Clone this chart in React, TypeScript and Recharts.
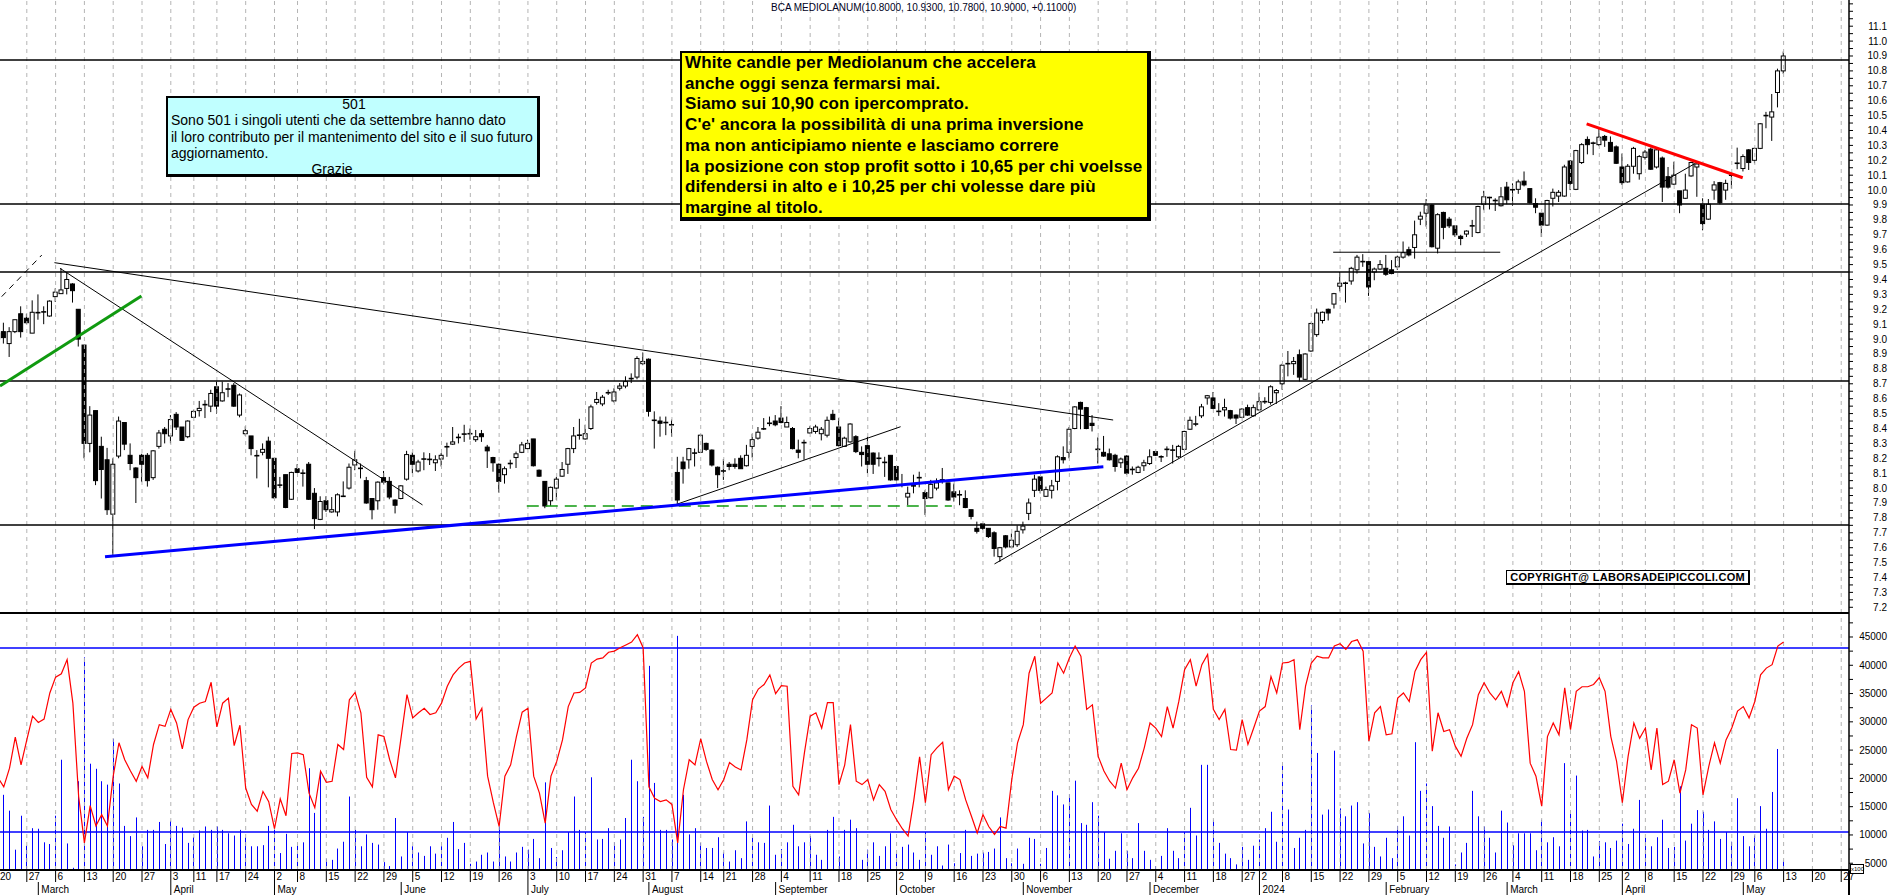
import React from 'react'
import { ComposedChart, Bar, Line, XAxis, YAxis, ReferenceLine } from 'recharts'

// trading calendar (Borsa Italiana), first session 20 Feb 2023
const START = Date.UTC(2023, 1, 20)
const HOLIDAYS = [
  '2023-04-07', '2023-04-10', '2023-05-01', '2023-08-15', '2023-12-25', '2023-12-26',
  '2024-01-01', '2024-03-29', '2024-04-01', '2024-05-01',
]
const MONTHS = ['January', 'February', 'March', 'April', 'May', 'June', 'July', 'August', 'September', 'October', 'November', 'December']

const opens = [
  9.00, 9.05, 8.97, 9.05, 9.17, 9.14, 9.04, 9.18, 9.18, 9.155,
  9.285, 9.305, 9.34, 9.37, 9.20, 8.96, 8.30, 8.52, 8.28, 8.19,
  7.825, 8.215, 8.44, 8.22, 8.135, 8.22, 8.22, 8.07, 8.28, 8.395,
  8.35, 8.495, 8.41, 8.345, 8.475, 8.52, 8.56, 8.55, 8.68, 8.585,
  8.66, 8.69, 8.49, 8.365, 8.35, 8.22, 8.24, 8.315, 8.20, 8.02,
  8.09, 7.925, 8.13, 8.10, 8.16, 7.965, 7.79, 7.915, 7.84, 7.84,
  7.945, 8.00, 8.155, 8.135, 8.05, 7.93, 7.915, 8.07, 8.045, 7.92,
  7.93, 8.06, 8.22, 8.115, 8.195, 8.19, 8.17, 8.195, 8.275, 8.295,
  8.345, 8.36, 8.36, 8.325, 8.365, 8.275, 8.205, 8.16, 8.09, 8.165,
  8.205, 8.24, 8.265, 8.33, 8.12, 8.045, 7.915, 8.00, 8.08, 8.16,
  8.265, 8.355, 8.33, 8.40, 8.575, 8.565, 8.64, 8.585, 8.67, 8.685,
  8.735, 8.745, 8.835, 8.865, 8.455, 8.45, 8.44, 8.425, 8.105, 8.175,
  8.19, 8.235, 8.24, 8.30, 8.255, 8.14, 8.115, 8.16, 8.16, 8.20,
  8.15, 8.28, 8.335, 8.40, 8.43, 8.45, 8.47, 8.41, 8.40, 8.255,
  8.305, 8.37, 8.38, 8.365, 8.355, 8.495, 8.41, 8.28, 8.31, 8.345,
  8.24, 8.285, 8.235, 8.20, 8.175, 8.22, 8.145, 8.02, 7.94, 8.015,
  8.07, 7.97, 7.935, 8.00, 8.055, 8.035, 7.975, 7.955, 7.93, 7.855,
  7.73, 7.76, 7.73, 7.70, 7.54, 7.68, 7.605, 7.62, 7.72, 7.83,
  7.985, 8.075, 7.945, 7.985, 8.045, 8.205, 8.24, 8.40, 8.575, 8.54,
  8.435, 8.26, 8.24, 8.23, 8.22, 8.17, 8.215, 8.125, 8.105, 8.15,
  8.165, 8.245, 8.21, 8.26, 8.255, 8.21, 8.26, 8.395, 8.43, 8.485,
  8.605, 8.605, 8.515, 8.525, 8.52, 8.49, 8.475, 8.54, 8.485, 8.525,
  8.58, 8.575, 8.64, 8.70, 8.835, 8.835, 8.895, 8.73, 8.92, 9.03,
  9.125, 9.20, 9.235, 9.355, 9.375, 9.39, 9.465, 9.515, 9.52, 9.45,
  9.47, 9.475, 9.465, 9.485, 9.55, 9.60, 9.615, 9.805, 9.845, 9.90,
  9.61, 9.85, 9.805, 9.76, 9.69, 9.705, 9.76, 9.715, 9.905, 9.95,
  9.93, 9.895, 10.02, 10.0, 10.005, 10.06, 10.01, 9.91, 9.845, 9.765,
  9.945, 9.96, 9.96, 10.195, 10.005, 10.185, 10.34, 10.315, 10.305, 10.36,
  10.32, 10.29, 10.155, 10.055, 10.16, 10.11, 10.22, 10.275, 10.155, 10.215,
  10.09, 10.04, 9.995, 9.945, 10.095, 10.155, 9.905, 9.805, 10.0, 10.05,
  10.0, 10.095, 10.175, 10.145, 10.27, 10.20, 10.28, 10.505, 10.49, 10.655, 10.80,
]

const highs = [
  9.06, 9.11, 9.08, 9.13, 9.22, 9.17, 9.26, 9.30, 9.22, 9.26,
  9.34, 9.475, 9.45, 9.375, 9.20, 8.96, 8.55, 8.52, 8.345, 8.27,
  8.20, 8.48, 8.44, 8.30, 8.14, 8.23, 8.235, 8.255, 8.39, 8.41,
  8.49, 8.51, 8.41, 8.455, 8.525, 8.585, 8.59, 8.66, 8.715, 8.715,
  8.705, 8.705, 8.635, 8.415, 8.35, 8.255, 8.30, 8.345, 8.20, 8.075,
  8.09, 8.11, 8.16, 8.125, 8.175, 8.00, 7.945, 7.945, 7.94, 7.965,
  8.045, 8.165, 8.25, 8.165, 8.075, 7.93, 8.045, 8.115, 8.075, 7.925,
  8.02, 8.25, 8.24, 8.19, 8.24, 8.235, 8.22, 8.235, 8.305, 8.41,
  8.365, 8.425, 8.40, 8.39, 8.39, 8.29, 8.21, 8.165, 8.145, 8.19,
  8.245, 8.31, 8.325, 8.33, 8.125, 8.045, 8.01, 8.075, 8.175, 8.27,
  8.41, 8.465, 8.425, 8.56, 8.645, 8.625, 8.66, 8.67, 8.705, 8.75,
  8.77, 8.885, 8.91, 8.87, 8.515, 8.48, 8.48, 8.46, 8.21, 8.21,
  8.27, 8.265, 8.36, 8.305, 8.26, 8.145, 8.195, 8.175, 8.20, 8.22,
  8.29, 8.365, 8.41, 8.47, 8.48, 8.49, 8.55, 8.48, 8.41, 8.325,
  8.325, 8.415, 8.425, 8.41, 8.48, 8.525, 8.47, 8.345, 8.435, 8.355,
  8.28, 8.345, 8.24, 8.24, 8.21, 8.22, 8.145, 8.095, 8.01, 8.09,
  8.11, 7.985, 8.055, 8.065, 8.135, 8.035, 8.03, 7.985, 7.985, 7.855,
  7.775, 7.765, 7.73, 7.71, 7.605, 7.685, 7.695, 7.75, 7.775, 7.93,
  8.09, 8.08, 8.01, 8.055, 8.22, 8.28, 8.41, 8.55, 8.58, 8.545,
  8.49, 8.34, 8.35, 8.265, 8.23, 8.205, 8.22, 8.145, 8.15, 8.19,
  8.26, 8.25, 8.22, 8.28, 8.29, 8.29, 8.385, 8.48, 8.485, 8.565,
  8.625, 8.645, 8.57, 8.60, 8.525, 8.495, 8.535, 8.56, 8.56, 8.64,
  8.61, 8.69, 8.665, 8.835, 8.92, 8.88, 8.93, 8.905, 9.11, 9.205,
  9.185, 9.205, 9.31, 9.45, 9.385, 9.485, 9.565, 9.57, 9.525, 9.48,
  9.53, 9.565, 9.53, 9.56, 9.655, 9.62, 9.795, 9.855, 9.94, 9.905,
  9.845, 9.855, 9.82, 9.76, 9.70, 9.73, 9.80, 9.895, 9.995, 9.955,
  9.945, 10.02, 10.055, 10.045, 10.07, 10.125, 10.01, 9.945, 9.845, 9.935,
  10.01, 10.0, 10.17, 10.20, 10.27, 10.315, 10.36, 10.325, 10.415, 10.37,
  10.36, 10.30, 10.245, 10.175, 10.29, 10.235, 10.27, 10.285, 10.28, 10.225,
  10.155, 10.19, 9.995, 10.11, 10.19, 10.18, 9.945, 9.94, 10.06, 10.055,
  10.07, 10.11, 10.285, 10.24, 10.275, 10.285, 10.45, 10.525, 10.645, 10.815, 10.93,
]

const lows = [
  8.95, 8.97, 8.88, 9.04, 9.01, 9.10, 9.04, 9.13, 9.10, 9.15,
  9.25, 9.305, 9.30, 9.245, 8.95, 8.20, 8.24, 8.02, 7.93, 7.82,
  7.54, 8.20, 8.255, 8.12, 7.90, 8.04, 8.01, 8.055, 8.265, 8.30,
  8.30, 8.39, 8.32, 8.335, 8.47, 8.48, 8.47, 8.51, 8.50, 8.58,
  8.61, 8.545, 8.475, 8.35, 8.22, 8.065, 8.22, 8.005, 7.93, 8.00,
  7.865, 7.92, 8.10, 8.01, 7.92, 7.725, 7.785, 7.84, 7.835, 7.81,
  7.94, 7.99, 8.12, 8.065, 7.895, 7.79, 7.855, 8.025, 7.925, 7.83,
  7.925, 8.05, 8.10, 8.105, 8.12, 8.155, 8.115, 8.145, 8.21, 8.29,
  8.30, 8.31, 8.325, 8.31, 8.31, 8.135, 8.11, 7.97, 8.03, 8.13,
  8.135, 8.235, 8.26, 8.145, 8.075, 7.865, 7.88, 7.92, 8.075, 8.095,
  8.235, 8.325, 8.325, 8.39, 8.56, 8.55, 8.625, 8.575, 8.655, 8.67,
  8.705, 8.73, 8.825, 8.48, 8.265, 8.345, 8.355, 8.345, 7.895, 8.03,
  8.13, 8.145, 8.235, 8.25, 8.145, 8.00, 8.055, 8.12, 8.13, 8.13,
  8.145, 8.205, 8.325, 8.39, 8.415, 8.415, 8.435, 8.41, 8.26, 8.20,
  8.19, 8.365, 8.365, 8.32, 8.34, 8.455, 8.28, 8.28, 8.305, 8.235,
  8.145, 8.10, 8.095, 8.145, 8.075, 8.05, 8.05, 8.005, 7.885, 7.965,
  8.005, 7.82, 7.93, 7.985, 8.03, 7.915, 7.91, 7.885, 7.865, 7.79,
  7.695, 7.72, 7.665, 7.54, 7.505, 7.595, 7.605, 7.605, 7.695, 7.785,
  7.94, 7.965, 7.94, 7.93, 7.985, 8.165, 8.20, 8.395, 8.395, 8.395,
  8.38, 8.165, 8.21, 8.185, 8.11, 8.135, 8.09, 8.09, 8.10, 8.115,
  8.155, 8.215, 8.175, 8.21, 8.165, 8.20, 8.255, 8.39, 8.415, 8.47,
  8.56, 8.53, 8.485, 8.48, 8.46, 8.43, 8.47, 8.485, 8.48, 8.52,
  8.565, 8.56, 8.565, 8.66, 8.75, 8.76, 8.715, 8.725, 8.915, 9.015,
  9.105, 9.125, 9.205, 9.32, 9.245, 9.365, 9.44, 9.485, 9.29, 9.395,
  9.465, 9.425, 9.435, 9.465, 9.54, 9.555, 9.54, 9.765, 9.755, 9.615,
  9.575, 9.67, 9.745, 9.685, 9.63, 9.685, 9.685, 9.71, 9.865, 9.87,
  9.86, 9.89, 9.905, 9.895, 9.975, 10.025, 9.91, 9.845, 9.685, 9.76,
  9.89, 9.92, 9.955, 10.0, 10.0, 10.175, 10.24, 10.235, 10.295, 10.29,
  10.26, 10.175, 10.035, 10.05, 10.11, 10.07, 10.205, 10.135, 10.145, 9.92,
  10.01, 10.035, 9.845, 9.94, 10.09, 9.955, 9.73, 9.80, 9.935, 9.905,
  9.935, 10.01, 10.14, 10.125, 10.135, 10.18, 10.275, 10.415, 10.33, 10.555, 10.78,
]

const closes = [
  9.04, 9.01, 9.05, 9.13, 9.05, 9.11, 9.18, 9.175, 9.185, 9.255,
  9.315, 9.33, 9.40, 9.325, 9.00, 8.30, 8.49, 8.05, 8.125, 7.855,
  8.16, 8.45, 8.295, 8.165, 8.07, 8.16, 8.05, 8.25, 8.37, 8.365,
  8.46, 8.41, 8.32, 8.45, 8.515, 8.535, 8.56, 8.635, 8.55, 8.64,
  8.67, 8.55, 8.625, 8.385, 8.265, 8.215, 8.26, 8.20, 7.935, 8.02,
  7.87, 8.105, 8.105, 8.10, 7.925, 7.795, 7.91, 7.855, 7.855, 7.955,
  7.945, 8.14, 8.19, 8.13, 7.90, 7.855, 8.04, 8.04, 7.94, 7.885,
  8.015, 8.225, 8.16, 8.175, 8.195, 8.195, 8.19, 8.22, 8.28, 8.31,
  8.335, 8.365, 8.37, 8.345, 8.345, 8.25, 8.17, 8.045, 8.13, 8.165,
  8.23, 8.29, 8.30, 8.15, 8.08, 7.88, 8.005, 8.06, 8.125, 8.265,
  8.35, 8.355, 8.365, 8.545, 8.595, 8.61, 8.64, 8.645, 8.685, 8.715,
  8.735, 8.87, 8.85, 8.515, 8.455, 8.435, 8.44, 8.425, 7.92, 8.13,
  8.265, 8.235, 8.355, 8.26, 8.155, 8.09, 8.115, 8.145, 8.145, 8.13,
  8.22, 8.325, 8.375, 8.395, 8.44, 8.425, 8.44, 8.44, 8.265, 8.24,
  8.305, 8.40, 8.41, 8.395, 8.455, 8.46, 8.285, 8.335, 8.43, 8.245,
  8.225, 8.16, 8.16, 8.20, 8.17, 8.055, 8.055, 8.02, 7.965, 8.015,
  8.07, 7.93, 8.025, 8.035, 8.055, 7.92, 7.94, 7.955, 7.87, 7.81,
  7.71, 7.73, 7.675, 7.595, 7.60, 7.605, 7.65, 7.71, 7.745, 7.90,
  8.06, 7.985, 7.99, 8.015, 8.21, 8.19, 8.395, 8.545, 8.53, 8.40,
  8.42, 8.26, 8.215, 8.19, 8.145, 8.195, 8.10, 8.125, 8.14, 8.17,
  8.21, 8.22, 8.21, 8.26, 8.255, 8.28, 8.38, 8.455, 8.43, 8.545,
  8.62, 8.535, 8.515, 8.54, 8.47, 8.47, 8.53, 8.49, 8.54, 8.58,
  8.58, 8.68, 8.655, 8.825, 8.835, 8.85, 8.745, 8.90, 9.105, 9.175,
  9.18, 9.175, 9.305, 9.375, 9.375, 9.475, 9.55, 9.525, 9.35, 9.47,
  9.50, 9.435, 9.44, 9.55, 9.58, 9.565, 9.70, 9.825, 9.90, 9.62,
  9.835, 9.75, 9.76, 9.70, 9.675, 9.725, 9.76, 9.89, 9.955, 9.95,
  9.93, 9.955, 9.935, 10.005, 10.055, 10.035, 9.915, 9.885, 9.765, 9.93,
  9.985, 9.985, 10.155, 10.045, 10.265, 10.305, 10.305, 10.315, 10.355, 10.335,
  10.26, 10.18, 10.05, 10.16, 10.28, 10.225, 10.255, 10.14, 10.27, 10.02,
  10.02, 10.10, 9.90, 10.0, 10.185, 10.175, 9.775, 9.905, 10.035, 9.915,
  10.045, 10.105, 10.185, 10.225, 10.185, 10.28, 10.445, 10.495, 10.525, 10.80, 10.90,
]

const volumes = [
  8000, 17100, 14300, 7400, 13400, 8100, 11200, 11100, 8700, 8400,
  13400, 23300, 8500, 4200, 19500, 41400, 22600, 21700, 19500, 18900,
  27000, 19100, 11600, 9800, 13100, 8000, 10900, 10900, 12300, 8400,
  12500, 11600, 11300, 8600, 9600, 10800, 11500, 10900, 11500, 10900,
  10300, 9900, 10900, 9600, 8000, 8000, 8200, 11600, 11100, 6800,
  10200, 7900, 8600, 8700, 21800, 13900, 21300, 5800, 5600, 7600,
  8800, 16800, 10900, 8000, 10100, 8600, 8300, 5200, 4500, 13000,
  6200, 10500, 8000, 6900, 6300, 8000, 6700, 8000, 9500, 12300,
  7500, 8600, 4900, 5300, 6500, 6900, 5300, 11500, 6200, 5300,
  6900, 7900, 7400, 9300, 5900, 19300, 7700, 6100, 7300, 10500,
  16800, 10900, 10500, 20200, 9200, 9300, 11200, 8700, 9200, 13000,
  23300, 19500, 13200, 39900, 19200, 10900, 10900, 9200, 45200, 17100,
  10100, 11200, 8600, 7700, 7700, 9600, 6900, 5300, 7300, 5900,
  12400, 9500, 8700, 8600, 15200, 6500, 7500, 8700, 11800, 8000,
  8700, 9800, 6500, 5600, 10900, 13200, 6200, 10900, 12700, 11200,
  5600, 7400, 8700, 6300, 8000, 10300, 6800, 7900, 8300, 6900,
  5600, 10500, 6500, 8000, 4600, 8300, 5000, 6800, 10900, 6300,
  6700, 6900, 7000, 7600, 13100, 5900, 5000, 7600, 4900, 9500,
  9300, 4900, 7700, 17800, 17000, 15400, 17200, 19600, 12100, 11800,
  15800, 13400, 10500, 5800, 7200, 10300, 7200, 5900, 12100, 7200,
  5600, 4500, 6300, 11200, 7200, 5900, 10500, 14800, 9900, 22400,
  22400, 12700, 8600, 6700, 5900, 4800, 7900, 5600, 8100, 9200,
  11200, 14100, 8800, 22300, 14500, 7700, 9500, 10900, 32900, 24500,
  13600, 14500, 24900, 14700, 13300, 15200, 15800, 8500, 13900, 7900,
  6200, 9500, 5900, 11600, 13300, 9900, 26400, 17800, 19100, 15100,
  11600, 9500, 11500, 4800, 6900, 8600, 17800, 13300, 11500, 9500,
  6900, 14300, 12200, 8200, 10300, 10300, 10300, 7300, 12700, 8700,
  9600, 8000, 22700, 14300, 20500, 10800, 10900, 6200, 8900, 8700,
  7700, 9000, 12000, 8400, 11100, 16200, 9500, 8000, 9600, 12700,
  7700, 7900, 18600, 9000, 12000, 14400, 14100, 10900, 12400, 9300,
  10500, 8800, 16500, 9800, 8000, 9900, 15100, 11100, 17600, 25200, 5500,
]

const oscillator = [
  20100, 18500, 21800, 27300, 22400, 26800, 31000, 29900, 30500, 35100,
  37900, 38500, 41000, 33300, 16800, 8600, 15200, 11600, 13600, 11600,
  20400, 26300, 23300, 21300, 19500, 22100, 20100, 26000, 29500, 29200,
  32200, 29800, 25200, 30400, 32600, 33300, 33600, 37000, 29100, 33300,
  34200, 25800, 29400, 18300, 15400, 14200, 17700, 15900, 11100, 16400,
  13400, 24400, 24500, 24200, 17400, 14800, 21300, 19300, 19500, 26000,
  25100, 33900, 35200, 31600, 20200, 18500, 27700, 27400, 23300, 20100,
  27400, 34800, 30700, 31600, 32400, 31300, 31600, 33300, 36300, 38300,
  39500, 40400, 40700, 30500, 32400, 20400, 15700, 11500, 20400, 22400,
  27400, 31700, 32400, 20400, 17400, 12100, 20400, 23000, 26800, 32700,
  35100, 35200, 36000, 40400, 41100, 41300, 42300, 42500, 43100, 43600,
  44100, 45400, 43100, 18500, 16500, 15900, 16200, 15400, 8600, 18000,
  23300, 22400, 27000, 23000, 19800, 18000, 19800, 22800, 22000, 21500,
  26800, 33900, 35800, 36600, 38300, 35000, 36400, 36300, 18600, 17100,
  24500, 31000, 31600, 28900, 33400, 33400, 18900, 22400, 29500, 19500,
  18900, 19800, 16200, 18900, 17700, 14500, 12700, 11100, 9800, 16200,
  23800, 15700, 24200, 25400, 26400, 18000, 20400, 19800, 16200, 13300,
  10350, 13600, 11500, 10100, 11500, 11200, 19800, 26300, 29500, 38600,
  41600, 33300, 34200, 35100, 40400, 38600, 41300, 43400, 41600, 32200,
  33000, 23900, 21300, 19500, 18300, 22700, 18000, 20100, 21800, 25400,
  29800, 28900, 27400, 32700, 28900, 33600, 39200, 41000, 36300, 40100,
  41900, 32200, 30400, 32200, 25100, 25000, 30400, 26000, 28900, 31900,
  32700, 38000, 35100, 40400, 40500, 41000, 28600, 36300, 40400, 41600,
  41300, 41300, 43400, 43800, 42800, 44200, 44500, 42500, 26600, 31600,
  32700, 27700, 27900, 34200, 35100, 33600, 38900, 41000, 42300, 24800,
  31600, 28300, 28600, 25700, 23900, 27100, 29500, 34800, 36900, 35100,
  33900, 35400, 32700, 36900, 38900, 35400, 22700, 20400, 15100, 27400,
  29800, 27700, 36000, 28600, 35400, 36200, 36200, 36600, 37800, 35400,
  27400, 23000, 15700, 23900, 29800, 27100, 28900, 21500, 28900, 18900,
  19500, 23300, 17400, 21500, 29500, 28900, 17100, 22100, 26300, 22700,
  26800, 28900, 31900, 32700, 30700, 33600, 38300, 39500, 40100, 43400, 44100,
]

const priceLevels = [10.873, 9.907, 9.45, 8.719, 7.752]
const volumeLevels = [43060, 10530]

const title = 'BCA MEDIOLANUM(10.8000, 10.9300, 10.7800, 10.9000, +0.11000)'
const noteLines = [
  'White candle per Mediolanum che accelera',
  'anche oggi senza fermarsi mai.',
  'Siamo sui 10,90 con ipercomprato.',
  "C'e' ancora la possibilità di una prima inversione",
  'ma non anticipiamo niente e lasciamo correre',
  'la posizione con stop profit sotto i 10,65 per chi voelsse',
  'difendersi in alto e i 10,25 per chi volesse dare più',
  'margine al titolo.',
]
const thanksLines = [
  'Sono 501 i singoli utenti che da settembre hanno dato',
  'il loro contributo per il mantenimento del sito e il suo futuro',
  'aggiornamento.',
]

const FONT = "'Liberation Sans', Arial, sans-serif"
const X_DOMAIN: [number, number] = [0.347, 321.35]
const P_DOMAIN: [number, number] = [7.1617, 11.2758]
const V_DOMAIN: [number, number] = [3806, 49243]
const AXIS_X = 1849

function buildTradingDays(count: number) {
  const out: Date[] = []
  let t = START
  while (out.length < count) {
    const d = new Date(t)
    const dow = d.getUTCDay()
    if (dow !== 0 && dow !== 6 && !HOLIDAYS.includes(d.toISOString().slice(0, 10))) out.push(d)
    t += 86400000
  }
  return out
}

const days = buildTradingDays(322)
const weekTicks = days
  .map((_, i) => i)
  .filter((i) => i === 0 || days[i].getUTCDay() <= days[i - 1].getUTCDay() || days[i].getTime() - days[i - 1].getTime() >= 7 * 86400000)
const monthTicks = days
  .map((_, i) => i)
  .filter((i) => i > 0 && days[i].getUTCMonth() !== days[i - 1].getUTCMonth())

const candles = opens.map((o, i) => ({ i, o, h: highs[i], l: lows[i], c: closes[i], range: [lows[i], highs[i]] }))
const lower = volumes.map((v, i) => ({ i, vol: v, osc: oscillator[i] }))

const priceTicks: number[] = []
for (let k = 144; k <= 225; k++) priceTicks.push(Math.round(k * 5) / 100)
const volumeTicks: number[] = []
for (let v = 5000; v <= 47500; v += 2500) volumeTicks.push(v)

// hand-drawn trend lines: [i1, p1, i2, p2]
const thinLines = [
  [9.8, 9.513, 193.6, 8.457],
  [10.76, 9.475, 73.7, 7.887],
  [117.5, 7.887, 156.7, 8.412],
  [173, 7.491, 294.7, 10.18],
  [231.8, 9.583, 260.8, 9.583],
]

function Candle(props: any) {
  const { x, y, width, height, payload } = props
  if (!payload) return null
  const cx = x + width / 2
  const top = Math.min(y, y + height)
  const len = Math.abs(height)
  const { o, h, l, c } = payload
  const span = h - l
  const toY = (v: number) => (span > 0 ? top + ((h - v) / span) * len : top)
  const bTop = toY(Math.max(o, c))
  const bBot = toY(Math.min(o, c))
  return (
    <g>
      <line x1={cx} x2={cx} y1={top} y2={top + len} stroke="#000" strokeWidth={1} />
      {bBot - bTop < 1.5 ? (
        <line x1={cx - 2.5} x2={cx + 2.5} y1={(bTop + bBot) / 2} y2={(bTop + bBot) / 2} stroke="#000" strokeWidth={1.6} />
      ) : (
        <rect x={cx - 2} y={bTop} width={4} height={bBot - bTop} fill={c >= o ? '#fff' : '#000'} stroke="#000" strokeWidth={1} />
      )}
    </g>
  )
}

function VolumeBar(props: any) {
  const { x, y, width, height } = props
  const cx = Math.round(x + width / 2)
  return <rect x={cx} y={y} width={1} height={Math.max(0, height)} fill="#0000ff" />
}

const PriceTick = (p: any) => {
  const v = p.payload.value
  const major = Math.abs(v * 10 - Math.round(v * 10)) < 1e-6
  return (
    <g>
      <line x1={AXIS_X} x2={AXIS_X + 4} y1={p.y} y2={p.y} stroke="#000" />
      {major && v < 11.15 && (
        <text x={1887} y={p.y} dy={3.5} textAnchor="end" fontSize={10} fontFamily={FONT} fill="#000">
          {v.toFixed(1)}
        </text>
      )}
    </g>
  )
}

const VolumeTick = (p: any) => {
  const v = p.payload.value
  return (
    <g>
      <line x1={AXIS_X} x2={AXIS_X + 4} y1={p.y} y2={p.y} stroke="#000" />
      {v % 5000 === 0 && v <= 45000 && (
        <text x={1887} y={p.y} dy={3.5} textAnchor="end" fontSize={10} fontFamily={FONT} fill="#000">
          {v}
        </text>
      )}
    </g>
  )
}

const DayTick = (p: any) => {
  const d = days[p.payload.value]
  return (
    <g>
      <line x1={p.x} x2={p.x} y1={257} y2={269} stroke="#000" />
      <text x={p.x + 2} y={267} fontSize={10} fontFamily={FONT} fill="#000">
        {d.getUTCDate()}
      </text>
    </g>
  )
}

const MonthTick = (p: any) => {
  const d = days[p.payload.value]
  const m = d.getUTCMonth()
  return (
    <g>
      <line x1={p.x} x2={p.x} y1={269} y2={282} stroke="#000" />
      <text x={p.x + 3} y={280} fontSize={10} fontFamily={FONT} fill="#000">
        {m === 0 ? String(d.getUTCFullYear()) : MONTHS[m]}
      </text>
    </g>
  )
}

const gridLine = { stroke: '#b4b4b4', strokeDasharray: '4 4', strokeWidth: 1 }

export default function App() {
  return (
    <div style={{ position: 'absolute', left: 0, top: 0, width: 1890, height: 895, background: '#fff', overflow: 'hidden', fontFamily: FONT }}>
      <ComposedChart width={1890} height={613} data={candles} margin={{ top: 0, right: 0, left: 0, bottom: 0 }}>
        <XAxis dataKey="i" type="number" domain={X_DOMAIN} allowDataOverflow hide />
        <YAxis
          orientation="right"
          type="number"
          domain={P_DOMAIN}
          allowDataOverflow
          ticks={priceTicks}
          interval={0}
          width={41}
          axisLine={{ stroke: '#000', strokeWidth: 1.5 }}
          tickLine={false}
          tick={PriceTick}
        />
        {weekTicks.map((t) => (
          <ReferenceLine key={'g' + t} x={t} {...gridLine} ifOverflow="visible" />
        ))}
        {priceLevels.map((p) => (
          <ReferenceLine key={'p' + p} y={p} stroke="#000" strokeWidth={1.5} />
        ))}
        {thinLines.map((s, k) => (
          <ReferenceLine key={'t' + k} segment={[{ x: s[0], y: s[1] }, { x: s[2], y: s[3] }]} stroke="#000" strokeWidth={1} ifOverflow="visible" />
        ))}
        <ReferenceLine segment={[{ x: 0.64, y: 9.285 }, { x: 7.6, y: 9.564 }]} stroke="#000" strokeWidth={1} strokeDasharray="6 5" ifOverflow="visible" />
        <ReferenceLine segment={[{ x: 0.35, y: 8.685 }, { x: 24.9, y: 9.289 }]} stroke="#109a10" strokeWidth={3} ifOverflow="visible" />
        <ReferenceLine segment={[{ x: 91.8, y: 7.88 }, { x: 165.6, y: 7.88 }]} stroke="#109a10" strokeWidth={1.5} strokeDasharray="12 7" ifOverflow="visible" />
        <ReferenceLine segment={[{ x: 18.58, y: 7.54 }, { x: 191.9, y: 8.144 }]} stroke="#0000ff" strokeWidth={3} ifOverflow="visible" />
        <ReferenceLine segment={[{ x: 275.8, y: 10.444 }, { x: 302.9, y: 10.083 }]} stroke="#ff0000" strokeWidth={3} ifOverflow="visible" />
        <Bar dataKey="range" barSize={5} shape={Candle} isAnimationActive={false} />
      </ComposedChart>

      <ComposedChart width={1890} height={282} data={lower} margin={{ top: 0, right: 0, left: 0, bottom: 0 }}>
        <XAxis
          xAxisId="d"
          dataKey="i"
          type="number"
          domain={X_DOMAIN}
          allowDataOverflow
          ticks={weekTicks}
          interval={0}
          height={12}
          axisLine={{ stroke: '#000', strokeWidth: 2 }}
          tickLine={false}
          tick={DayTick}
        />
        <XAxis
          xAxisId="m"
          dataKey="i"
          type="number"
          domain={X_DOMAIN}
          allowDataOverflow
          ticks={monthTicks}
          interval={0}
          height={13}
          axisLine={false}
          tickLine={false}
          tick={MonthTick}
        />
        <YAxis
          yAxisId="v"
          orientation="right"
          type="number"
          domain={V_DOMAIN}
          allowDataOverflow
          ticks={volumeTicks}
          interval={0}
          width={41}
          axisLine={{ stroke: '#000', strokeWidth: 1.5 }}
          tickLine={false}
          tick={VolumeTick}
        />
        {weekTicks.map((t) => (
          <ReferenceLine key={'g' + t} xAxisId="d" yAxisId="v" x={t} {...gridLine} ifOverflow="visible" />
        ))}
        <Bar xAxisId="d" yAxisId="v" dataKey="vol" barSize={1} shape={VolumeBar} isAnimationActive={false} />
        {volumeLevels.map((v) => (
          <ReferenceLine key={'v' + v} xAxisId="d" yAxisId="v" y={v} stroke="#0000ff" strokeWidth={1.5} />
        ))}
        <Line xAxisId="d" yAxisId="v" dataKey="osc" type="linear" stroke="#ff0000" strokeWidth={1.2} dot={false} isAnimationActive={false} />
      </ComposedChart>

      <div style={{ position: 'absolute', left: 0, top: 612, width: AXIS_X, height: 2, background: '#000' }} />
      <div style={{ position: 'absolute', left: AXIS_X - 1, top: 870, width: 1.5, height: 25, background: '#000' }} />
      <div style={{ position: 'absolute', left: 1850, top: 864, width: 12, height: 8, border: '1px solid #000', background: '#fff', fontSize: 6, lineHeight: '8px', textAlign: 'center', color: '#000' }}>
        x100
      </div>

      <div style={{ position: 'absolute', left: 771, top: 2, fontSize: 10, lineHeight: '12px', color: '#000022', whiteSpace: 'nowrap' }}>{title}</div>

      <div
        style={{
          position: 'absolute', left: 166, top: 96, width: 366, height: 76, background: '#c0ffff',
          borderTop: '2px solid #000', borderLeft: '2px solid #000', borderRight: '3px solid #000', borderBottom: '3px solid #000',
          fontSize: 14, lineHeight: '16.25px', color: '#000', paddingLeft: 3, whiteSpace: 'nowrap',
        }}
      >
        <div style={{ marginTop: -2, textAlign: 'center' }}>501</div>
        {thanksLines.map((t) => (
          <div key={t}>{t}</div>
        ))}
        <div style={{ textAlign: 'center', paddingRight: 44 }}>Grazie</div>
      </div>

      <div
        style={{
          position: 'absolute', left: 680, top: 51, width: 462, height: 164, background: '#ffff00',
          borderTop: '2px solid #000', borderLeft: '2px solid #000', borderRight: '4px solid #000', borderBottom: '4px solid #000',
          fontSize: 17, fontWeight: 'bold', lineHeight: '20.7px', color: '#000', paddingLeft: 3, whiteSpace: 'nowrap', letterSpacing: 0.1,
        }}
      >
        {noteLines.map((t) => (
          <div key={t}>{t}</div>
        ))}
      </div>

      <div
        style={{
          position: 'absolute', right: 140, top: 570, height: 12, padding: '0 3px', background: '#fff',
          border: '1px solid #000', borderRight: '2px solid #000', borderBottom: '2px solid #000',
          fontSize: 11, fontWeight: 'bold', lineHeight: '12px', color: '#000', whiteSpace: 'nowrap', letterSpacing: 0.3,
        }}
      >
        COPYRIGHT@ LABORSADEIPICCOLI.COM
      </div>
    </div>
  )
}
